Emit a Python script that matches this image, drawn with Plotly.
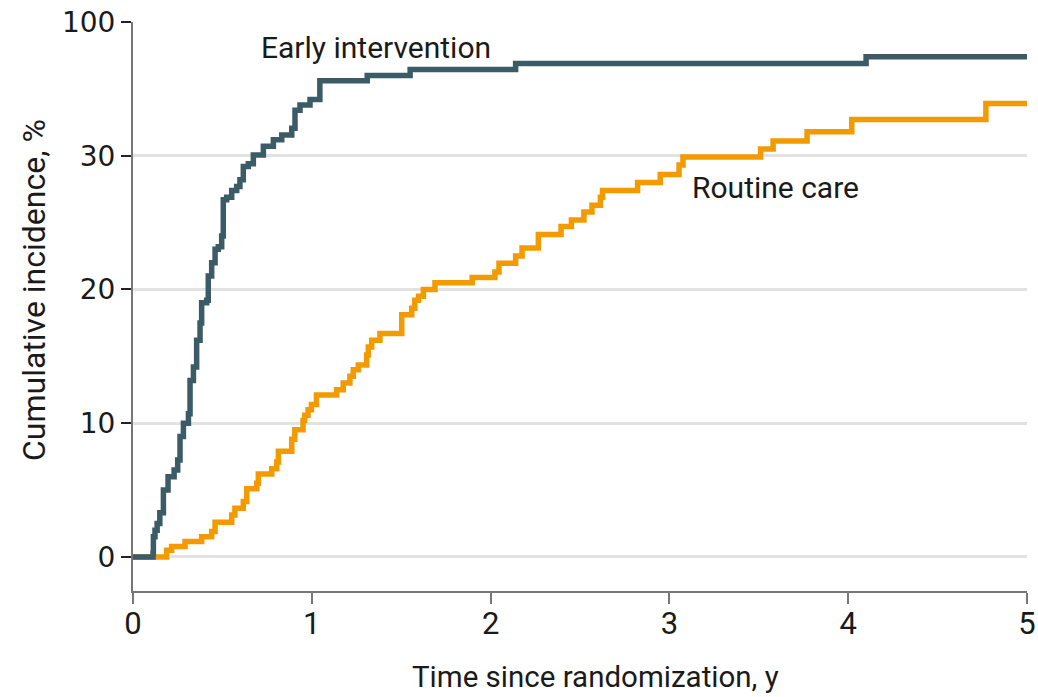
import plotly.graph_objects as go

# Cumulative incidence step data: time (years) at which each step occurs and level after the step (%)
early_time = [0, 0.112, 0.114, 0.123, 0.135, 0.150, 0.170, 0.196, 0.230, 0.250, 0.263, 0.282,
              0.310, 0.319, 0.338, 0.356, 0.375, 0.384, 0.412, 0.421, 0.440, 0.459, 0.477,
              0.496, 0.505, 0.524, 0.552, 0.580, 0.598, 0.617, 0.645, 0.673, 0.729, 0.785,
              0.832, 0.888, 0.906, 0.934, 0.990, 1.045, 1.310, 1.550, 2.140, 4.100, 5.0]
early_value = [0, 0.3, 1.5, 2.0, 2.5, 3.3, 5.0, 6.0, 6.5, 7.25, 9.0, 10.0,
               10.7, 13.2, 14.2, 16.2, 17.5, 19.0, 19.2, 21.0, 22.0, 23.0, 23.2,
               24.0, 26.7, 26.9, 27.4, 27.7, 28.2, 29.2, 29.4, 30.05, 30.7, 31.2,
               31.55, 32.05, 33.4, 33.8, 34.2, 35.6, 36.0, 36.45, 36.9, 37.4, 37.4]

routine_time = [0, 0.188, 0.216, 0.291, 0.384, 0.440, 0.459, 0.552, 0.570, 0.617, 0.636,
                0.692, 0.701, 0.776, 0.804, 0.813, 0.888, 0.905, 0.951, 0.960, 0.979, 0.998,
                1.026, 1.139, 1.176, 1.213, 1.232, 1.260, 1.307, 1.316, 1.335, 1.381, 1.503,
                1.559, 1.576, 1.597, 1.624, 1.689, 1.897, 2.024, 2.047, 2.140, 2.176, 2.267,
                2.394, 2.452, 2.522, 2.567, 2.614, 2.626, 2.822, 2.949, 3.054, 3.076, 3.510,
                3.580, 3.770, 4.020, 4.770, 5.0]
routine_value = [0, 0.5, 0.77, 1.15, 1.5, 1.9, 2.6, 3.14, 3.64, 4.14, 5.1,
                 5.5, 6.2, 6.6, 7.1, 7.9, 8.8, 9.5, 10.2, 10.6, 11.0, 11.4,
                 12.1, 12.5, 13.0, 13.5, 14.0, 14.35, 15.1, 15.7, 16.2, 16.7, 18.1,
                 18.6, 19.2, 19.5, 20.0, 20.5, 20.9, 21.3, 21.95, 22.5, 23.1, 24.1,
                 24.7, 25.2, 25.8, 26.3, 26.9, 27.4, 28.0, 28.6, 29.3, 29.9, 30.5,
                 31.1, 31.8, 32.7, 33.9, 33.9]

# Broken y axis: the top tick position carries the label "100"
y_tickvals = [0, 10, 20, 30, 40]
y_ticktext = ["0", "10", "20", "30", "100"]
x_tickvals = [0, 1, 2, 3, 4, 5]

EARLY_COLOR = "#3b5b67"
ROUTINE_COLOR = "#f39a00"
TEXT_COLOR = "#1a1a1a"
LABEL_FONT = "Roboto, sans-serif"

W, H = 1038, 697
ML, MR, MT, MB = 133, 11, 22, 106


def px_to_paper(px, py):
    """Pixel position on the page -> paper coordinates of the plot area."""
    return (px - ML) / (W - ML - MR), 1 - (py - MT) / (H - MT - MB)


fig = go.Figure()
fig.add_trace(go.Scatter(x=routine_time, y=routine_value, mode="lines",
                         line=dict(shape="hv", color=ROUTINE_COLOR, width=5.5),
                         hoverinfo="skip", showlegend=False))
fig.add_trace(go.Scatter(x=early_time, y=early_value, mode="lines",
                         line=dict(shape="hv", color=EARLY_COLOR, width=5.5),
                         hoverinfo="skip", showlegend=False))

fig.add_annotation(x=0.705, y=38.1, xref="x", yref="y", text="Early intervention",
                   showarrow=False, xanchor="left", yanchor="middle",
                   font=dict(family=LABEL_FONT, size=30, color=TEXT_COLOR))
fig.add_annotation(x=3.115, y=27.6, xref="x", yref="y", text="Routine care",
                   showarrow=False, xanchor="left", yanchor="middle",
                   font=dict(family=LABEL_FONT, size=30, color=TEXT_COLOR))

# Axis titles
tx, ty = px_to_paper(595, 677)
fig.add_annotation(x=tx, y=ty, xref="paper", yref="paper", text="Time since randomization, y",
                   showarrow=False, xanchor="center", yanchor="middle",
                   font=dict(family=LABEL_FONT, size=29.5, color=TEXT_COLOR))
tx, ty = px_to_paper(34, 290)
fig.add_annotation(x=tx, y=ty, xref="paper", yref="paper", text="Cumulative incidence, %",
                   showarrow=False, xanchor="center", yanchor="middle", textangle=-90,
                   font=dict(family=LABEL_FONT, size=32, color=TEXT_COLOR))

fig.update_layout(
    width=W, height=H,
    margin=dict(l=ML, r=MR, t=MT, b=MB, autoexpand=False),
    paper_bgcolor="white", plot_bgcolor="white",
    xaxis=dict(range=[0, 5], tickvals=x_tickvals, ticks="outside", ticklen=11,
               tickwidth=2, tickcolor="#777777", showline=True, linecolor="#777777",
               linewidth=2, showgrid=False, zeroline=False, automargin=False,
               ticklabelstandoff=-7,
               tickfont=dict(family=LABEL_FONT, size=31, color=TEXT_COLOR)),
    yaxis=dict(range=[-2.55, 40], tickvals=y_tickvals, ticktext=y_ticktext,
               ticks="outside", ticklen=10, tickwidth=2, tickcolor="#222222",
               showline=True, linecolor="#777777", linewidth=2, automargin=False,
               showgrid=True, gridcolor="#e2e2e2", gridwidth=3, zeroline=False,
               tickfont=dict(family="DejaVu Sans, sans-serif", size=28, color=TEXT_COLOR)),
)

fig.write_html("out.html")
